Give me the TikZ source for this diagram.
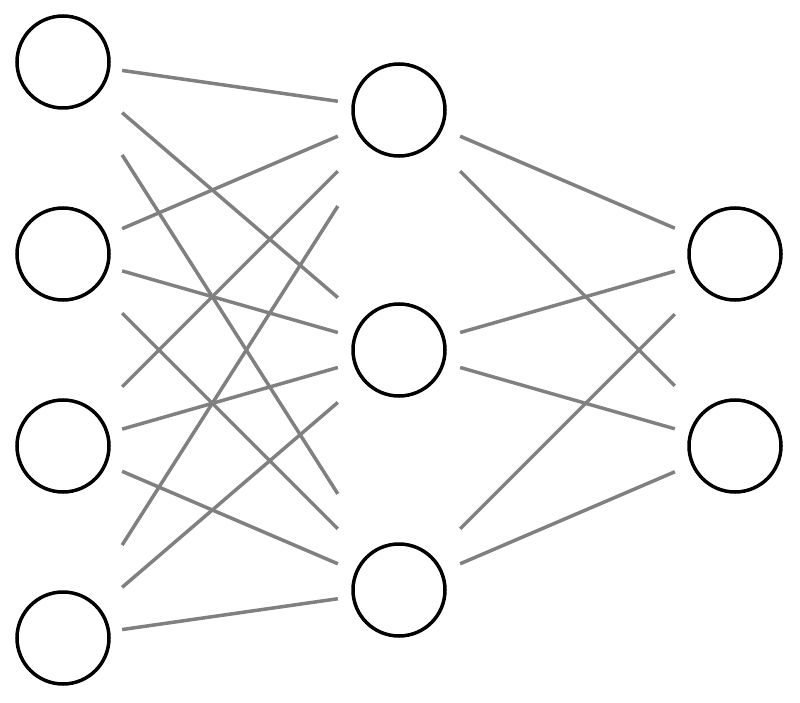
\documentclass[tikz,border=0pt]{standalone}
\usetikzlibrary{calc}
\begin{document}
\begin{tikzpicture}[x=1pt,y=-1pt,
  neuron/.style={circle,draw=black,line width=3.5pt,minimum size=92pt,inner sep=0pt},
  conn/.style={draw=gray,line width=3.5pt}]
\useasboundingbox (0,0) rectangle (800,703);
\foreach \i/\y in {1/62,2/254,3/446,4/638} \node[neuron] (i\i) at (63,\y) {};
\foreach \i/\y in {1/110,2/350,3/590} \node[neuron] (h\i) at (399,\y) {};
\foreach \i/\y in {1/254,2/446} \node[neuron] (o\i) at (735,\y) {};
\foreach \a in {1,2,3,4} \foreach \b in {1,2,3}
  \draw[conn] ($(i\a.center)!0.176!(h\b.center)$) -- ($(i\a.center)!0.818!(h\b.center)$);
\foreach \a in {1,2,3} \foreach \b in {1,2}
  \draw[conn] ($(h\a.center)!0.182!(o\b.center)$) -- ($(h\a.center)!0.821!(o\b.center)$);
\end{tikzpicture}
\end{document}
